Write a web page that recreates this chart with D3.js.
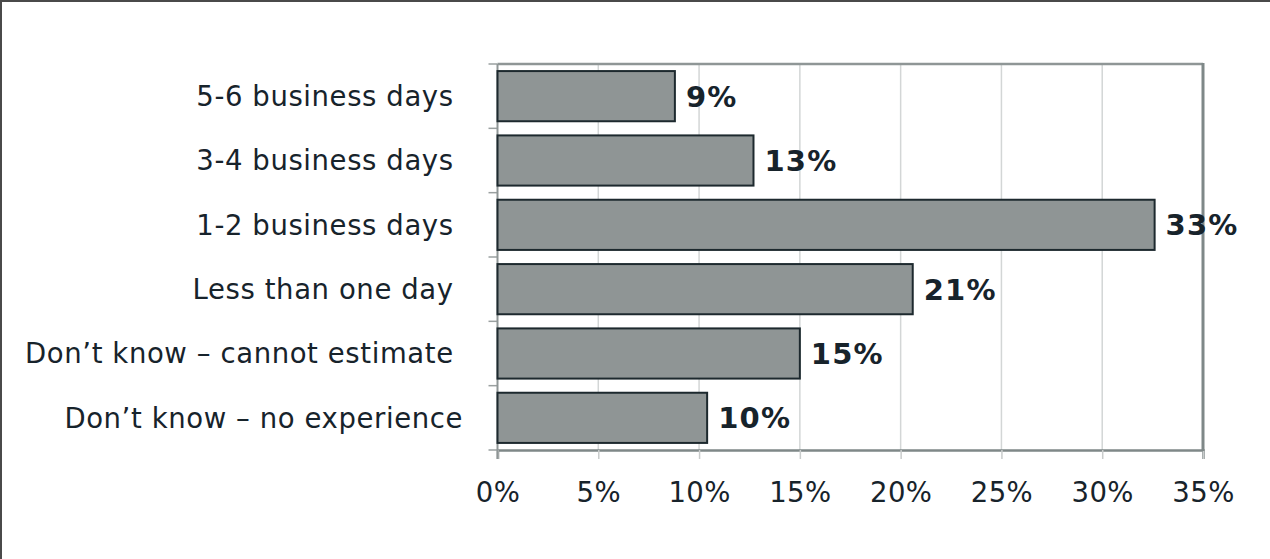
<!DOCTYPE html>
<html><head><meta charset="utf-8">
<script src="https://cdn.jsdelivr.net/npm/d3@7"></script>
<style>body{margin:0;background:#fff}svg{display:block}text{white-space:pre}</style>
</head><body>
<svg id="c" width="1270" height="559"></svg>
<script>
const categories = ["5-6 business days ", "3-4 business days ", "1-2 business days ", "Less than one day ", "Don\u2019t know \u2013 cannot estimate ", "Don\u2019t know \u2013 no experience"];
const values = [8.8, 12.7, 32.6, 20.6, 15.0, 10.4];
const valueLabels = ["9%", "13%", "33%", "21%", "15%", "10%"];
const xTicks = [0, 5, 10, 15, 20, 25, 30, 35];

const svg = d3.select("#c");
const font = "Verdana, 'DejaVu Sans', sans-serif";
const textCol = "#17232b";
const L = 497.5, R = 1203, T = 64, B = 450;

// outer border (top & left)
svg.append("line").attr("x1",0).attr("x2",1270).attr("y1",1).attr("y2",1).attr("stroke","#4a4a4a").attr("stroke-width",2);
svg.append("line").attr("x1",1).attr("x2",1).attr("y1",0).attr("y2",559).attr("stroke","#4a4a4a").attr("stroke-width",2);

const x = d3.scaleLinear().domain([0,35]).range([L,R]);
const y = d3.scaleBand().domain(categories).range([T,B]).paddingInner(0.22).paddingOuter(0.11);

// gridlines
svg.append("g").selectAll("line").data(xTicks.slice(1,-1)).join("line")
  .attr("x1",d=>x(d)).attr("x2",d=>x(d)).attr("y1",T).attr("y2",B)
  .attr("stroke","#d3d6d6").attr("stroke-width",1.5);

// x axis
const xa = svg.append("g").attr("transform",`translate(0,${B})`)
  .call(d3.axisBottom(x).tickValues(xTicks).tickFormat(d=>d+"%").tickSize(9).tickPadding(23));
xa.select(".domain").attr("stroke","#7f8888").attr("stroke-width",2.5);
xa.selectAll(".tick line").attr("stroke","#c9cccc").attr("stroke-width",1.5);
xa.selectAll("text").attr("font-family",font).attr("font-size",27.5).attr("letter-spacing",0.4).attr("fill",textCol);

// plot frame top & right
svg.append("line").attr("x1",L).attr("x2",R).attr("y1",T).attr("y2",T).attr("stroke","#8f9696").attr("stroke-width",2.5);
svg.append("line").attr("x1",R).attr("x2",R).attr("y1",T-1).attr("y2",B+1).attr("stroke","#7f8888").attr("stroke-width",3);

// y axis
const bounds = d3.range(categories.length+1).map(i => T + i*(B-T)/categories.length);
svg.append("g").selectAll("line").data(bounds).join("line")
  .attr("x1",L-9).attr("x2",L).attr("y1",d=>d).attr("y2",d=>d)
  .attr("stroke","#9aa0a0").attr("stroke-width",1.5);
svg.append("line").attr("x1",L).attr("x2",L).attr("y1",T).attr("y2",B+9).attr("stroke","#8f9696").attr("stroke-width",2);

svg.append("g").selectAll("text").data(categories).join("text")
  .attr("x",463).attr("y",d=>y(d)+y.bandwidth()/2).attr("dy","0.36em")
  .attr("text-anchor","end").attr("font-family",font).attr("font-size",27.5).attr("letter-spacing",0.6).attr("fill",textCol)
  .text(d=>d);

// bars
svg.append("g").selectAll("rect").data(values).join("rect")
  .attr("x",x(0)).attr("y",(d,i)=>y(categories[i]))
  .attr("width",d=>x(d)-x(0)).attr("height",y.bandwidth())
  .attr("fill","#8f9595").attr("stroke","#1d292e").attr("stroke-width",2);

// value labels
svg.append("g").selectAll("text").data(values).join("text")
  .attr("x",d=>x(d)+11).attr("y",(d,i)=>y(categories[i])+y.bandwidth()/2).attr("dy","0.36em")
  .attr("font-family",font).attr("font-weight","bold").attr("font-size",29).attr("letter-spacing",1.2).attr("fill",textCol)
  .text((d,i)=>valueLabels[i]);
</script>
</body></html>
